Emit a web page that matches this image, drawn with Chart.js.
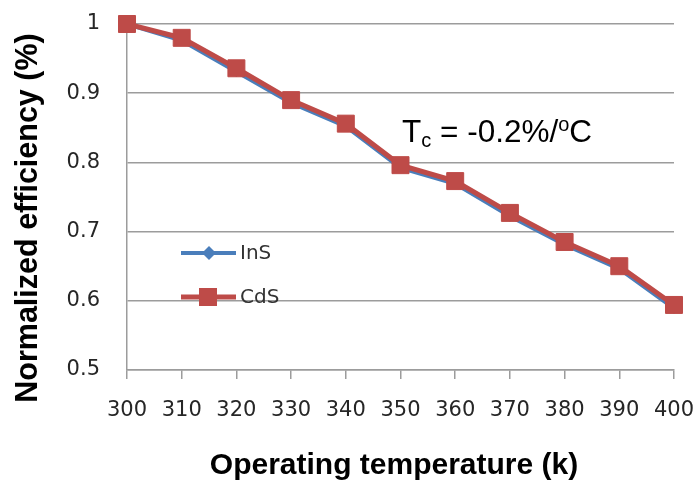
<!DOCTYPE html>
<html>
<head>
<meta charset="utf-8">
<script src="https://cdn.jsdelivr.net/npm/chart.js@4/dist/chart.umd.min.js"></script>
<style>
  body { margin: 0; background: #fff; }
</style>
</head>
<body>
<canvas id="effChart" width="693" height="484"></canvas>
<script>
// temperature vs normalized efficiency

const temps = [300, 310, 320, 330, 340, 350, 360, 370, 380, 390, 400];
const insVals = [1.0, 0.976, 0.931, 0.886, 0.852, 0.792, 0.769, 0.722, 0.681, 0.646, 0.589];
const cdsVals = [1.0, 0.980, 0.936, 0.890, 0.856, 0.796, 0.773, 0.727, 0.685, 0.650, 0.594];
const yTicks = [0.5, 0.6, 0.7, 0.8, 0.9, 1];

const blue = '#4a7ebb';
const red = '#be4b48';
const gridGray = '#9c9c9c';

// legend + titles + Tc note, drawn by hand
const extras = {
    id: 'extras',
    afterDraw(chart) {
        const ctx = chart.ctx;
        ctx.save();

        // legend
        ctx.lineCap = 'butt';
        ctx.strokeStyle = blue;
        ctx.lineWidth = 4;
        ctx.beginPath(); ctx.moveTo(181, 253); ctx.lineTo(236, 253); ctx.stroke();
        ctx.fillStyle = blue;
        ctx.beginPath();
        ctx.moveTo(209, 246); ctx.lineTo(216, 253); ctx.lineTo(209, 260); ctx.lineTo(202, 253);
        ctx.closePath(); ctx.fill();

        ctx.strokeStyle = red;
        ctx.lineWidth = 5;
        ctx.beginPath(); ctx.moveTo(181, 297); ctx.lineTo(236, 297); ctx.stroke();
        ctx.fillStyle = red;
        ctx.fillRect(199, 288, 18, 18);

        ctx.fillStyle = '#333';
        ctx.font = '20px "DejaVu Sans"';
        ctx.textBaseline = 'middle';
        ctx.textAlign = 'left';
        ctx.fillText('InS', 240, 254);
        ctx.fillText('CdS', 240, 298);

        // axis titles
        ctx.fillStyle = '#000';
        ctx.font = 'bold 30px "Liberation Sans"';
        ctx.textAlign = 'center';
        ctx.fillText('Operating temperature (k)', 394, 466);
        ctx.save();
        ctx.translate(29, 218);
        ctx.rotate(-Math.PI / 2);
        ctx.font = 'bold 30.5px "Liberation Sans"';
        ctx.fillText('Normalized efficiency (%)', 0, 0);
        ctx.restore();

        // Tc annotation
        ctx.textAlign = 'left';
        ctx.textBaseline = 'alphabetic';
        let x = 402;
        const base = 142;
        ctx.font = '31.5px "Liberation Sans"';
        ctx.fillText('T', x, base);
        x += ctx.measureText('T').width;
        ctx.font = '20px "Liberation Sans"';
        ctx.fillText('c', x, base + 5);
        x += ctx.measureText('c').width;
        ctx.font = '31.5px "Liberation Sans"';
        ctx.fillText(' = -0.2%/', x, base);
        x += ctx.measureText(' = -0.2%/').width;
        ctx.font = '20px "Liberation Sans"';
        ctx.fillText('o', x, base - 11);
        x += ctx.measureText('o').width;
        ctx.font = '31.5px "Liberation Sans"';
        ctx.fillText('C', x, base);

        ctx.restore();
    }
};

new Chart(document.getElementById('effChart'), {
    type: 'line',
    data: {
        labels: temps,
        datasets: [{
            label: 'InS',
            data: insVals,
            borderColor: blue,
            backgroundColor: blue,
            borderWidth: 4,
            pointStyle: 'rectRot',
            pointRadius: 5,
            pointBorderWidth: 1,
            clip: false,
            order: 2
        }, {
            label: 'CdS',
            data: cdsVals,
            borderColor: red,
            backgroundColor: red,
            borderWidth: 5,
            pointStyle: 'rect',
            pointRadius: 12,
            pointBorderWidth: 1,
            clip: false,
            order: 1
        }]
    },
    options: {
        responsive: false,
        animation: false,
        layout: { padding: { top: 24, right: 19, left: 0, bottom: 0 } },
        plugins: {
            legend: { display: false },
            tooltip: { enabled: false }
        },
        scales: {
            x: {
                offset: false,
                grid: {
                    drawOnChartArea: false,
                    drawTicks: true,
                    tickLength: 9,
                    color: gridGray,
                    lineWidth: 1.5
                },
                border: { color: gridGray, width: 1.5 },
                ticks: {
                    color: '#262626',
                    font: { family: 'DejaVu Sans', size: 21 },
                    padding: 19,
                    maxRotation: 0
                },
                afterFit(scale) {
                    scale.height = 114;
                    scale.paddingLeft = 0;
                    scale.paddingRight = 0;
                }
            },
            y: {
                min: 0.5,
                max: 1,
                afterBuildTicks(scale) {
                    scale.ticks = yTicks.map(v => ({ value: v }));
                },
                grid: {
                    drawTicks: false,
                    color: gridGray,
                    lineWidth: 1.5
                },
                border: { color: gridGray, width: 1.5 },
                ticks: {
                    color: '#262626',
                    font: { family: 'DejaVu Sans', size: 21 },
                    padding: 27,
                    callback: v => String(Number(v.toFixed(1)))
                },
                afterFit(scale) {
                    scale.width = 127;
                    scale.paddingTop = 0;
                    scale.paddingBottom = 0;
                }
            }
        }
    },
    plugins: [extras]
});
</script>
</body>
</html>
